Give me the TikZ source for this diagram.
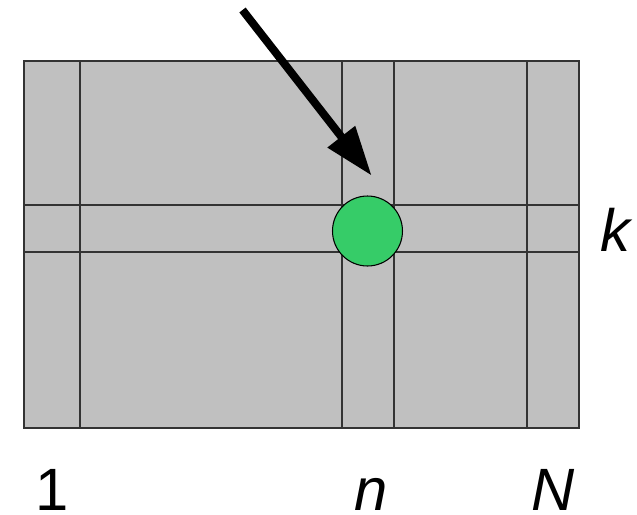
\documentclass[tikz,border=0pt]{standalone}
\usepackage{fontspec}
\setmainfont{Liberation Sans}
\usepackage{tikz}
\usetikzlibrary{arrows.meta, positioning, calc}
\definecolor{mygray}{RGB}{192,192,192}
\definecolor{myline}{RGB}{51,51,51}
\definecolor{mygreen}{RGB}{54,204,104}
\tikzset{
  matbox/.style={draw=myline, fill=mygray, line width=0.8pt},
  gridline/.style={draw=myline, line width=0.8pt},
  entry/.style={circle, draw=black, fill=mygreen, line width=0.6pt,
    minimum size=1.4cm, inner sep=0pt},
  pointer/.style={-{Triangle[length=0.99cm, width=0.66cm]}, line width=0.16cm, color=black},
  idxlabel/.style={font=\fontsize{34}{40}\selectfont, inner sep=0pt}
}

\begin{document}
\begin{tikzpicture}[x=0.02cm, y=-0.02cm]
  \useasboundingbox (0,0) rectangle (637,515);
  % ── Matrix block ───────────────────────────────────────────────────────────
  \draw[matbox] (24,61) rectangle (579,428);
  % Columns 1, n, N
  \foreach \xc in {80, 342, 394, 527}
    \draw[gridline] (\xc,61) -- (\xc,428);
  % Row k
  \foreach \yc in {205, 252}
    \draw[gridline] (24,\yc) -- (579,\yc);
  % ── Selected entry (k, n) ──────────────────────────────────────────────────
  \node[entry] (dot) at (367.5,231) {};
  % Pointer arrow — tip stops just above the entry
  \coordinate (tail) at (242.5,10);
  \coordinate (tip) at (371.7,175.7);
  \draw[pointer] (tail) -- (tip);
  % ── Index labels ───────────────────────────────────────────────────────────
  \node[idxlabel, anchor=base] (lbl1) at (52,510) {1};
  \node[idxlabel, anchor=base] (lbln) at (371,510) {\itshape n};
  \node[idxlabel, anchor=base] (lblN) at (553,510) {\itshape N};
  \node[idxlabel, anchor=base] (lblk) at (615,251) {\itshape k};
\end{tikzpicture}
\end{document}
